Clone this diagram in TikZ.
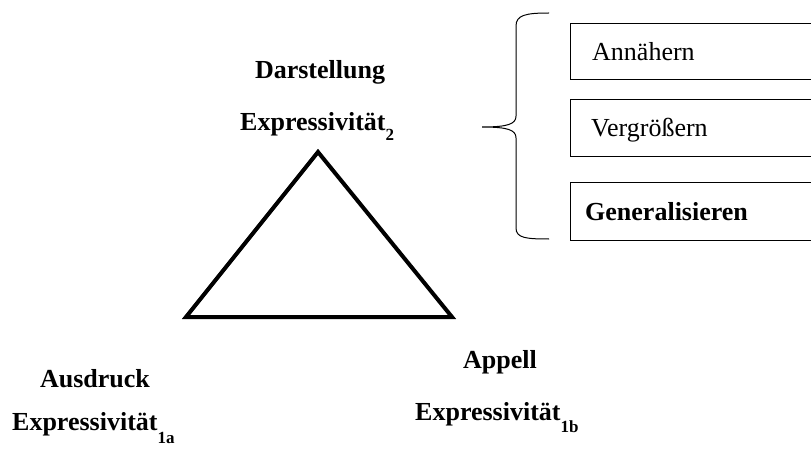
\documentclass[tikz,border=0pt]{standalone}
\usepackage{fontspec}
\setmainfont{Liberation Serif}
\newcommand{\idx}[2][-12pt]{\raisebox{#1}{\fontsize{17}{19}\selectfont #2}}
\tikzset{
  lbl/.style={font=\fontsize{26}{30}\selectfont\bfseries, inner sep=0pt},
  itembox/.style={draw, line width=1pt},
  itemtxt/.style={font=\fontsize{26}{30}\selectfont, inner sep=0pt, anchor=base west},
}
\begin{document}
\begin{tikzpicture}[x=1pt,y=-1pt]
    \useasboundingbox (0,0) rectangle (811,449);

    % triangle
    \coordinate (top) at (318,152);
    \coordinate (bl) at (186,317);
    \coordinate (br) at (452,317);
    \draw[line width=4pt, line join=miter] (top) -- (bl) -- (br) -- cycle;

    % labels
    \node[lbl, anchor=base] (darst) at (320,79) {Darstellung};
    \node[lbl, anchor=base west] (exp2) at (240,131) {Expressivität\idx[-10pt]{2}};

    \node[lbl, anchor=base] (ausdr) at (95,387) {Ausdruck};
    \node[lbl, anchor=base west] (exp1a) at (12,430) {Expressivität\idx[-13pt]{1a}};

    \node[lbl, anchor=base] (appell) at (500,368) {Appell};
    \node[lbl, anchor=base west] (exp1b) at (415,420) {Expressivität\idx{1b}};

    % brace
    \draw[line width=1pt] (549,13) .. controls (526,13) and (516,15) .. (516,26)
        -- (516,116) .. controls (516,124) and (508,127) .. (482,127)
        .. controls (508,127) and (516,130) .. (516,138)
        -- (516,228) .. controls (516,238) and (526,239) .. (549,239);

    % boxes (open on the right, cut by the edge)
    \draw[itembox] (570,24) rectangle (815,80);
    \node[itemtxt] (annae) at (592,61) {Annähern};
    \draw[itembox] (570,100) rectangle (815,157);
    \node[itemtxt] (vergr) at (591,137) {Vergrößern};
    \draw[itembox] (570,183) rectangle (815,240);
    \node[itemtxt, font=\fontsize{26}{30}\selectfont\bfseries] (gener) at (585,221) {Generalisieren};

\end{tikzpicture}
\end{document}
